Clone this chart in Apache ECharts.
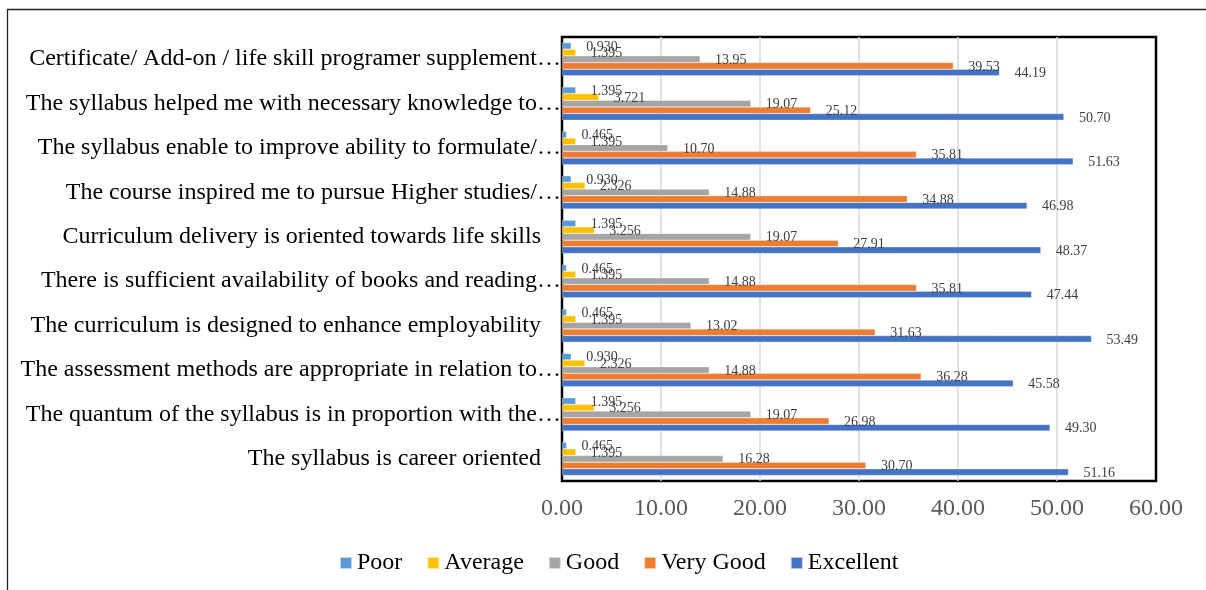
<!DOCTYPE html>
<html>
<head>
<meta charset="utf-8">
<script src="https://cdn.jsdelivr.net/npm/echarts@6/dist/echarts.min.js"></script>
<style>
html,body{margin:0;padding:0;background:#fff;}
#chart{width:1206px;height:590px;}
</style>
</head>
<body>
<div id="chart"></div>
<script>
const categories = [
  "Certificate/ Add-on / life skill programer supplement…",
  "The syllabus helped me with necessary knowledge to…",
  "The syllabus enable to improve ability to formulate/…",
  "The course inspired me to pursue Higher studies/…",
  "Curriculum delivery is oriented towards life skills",
  "There is sufficient availability of books and reading…",
  "The curriculum is designed to enhance employability",
  "The assessment methods are appropriate in relation to…",
  "The quantum of the syllabus is in proportion with the…",
  "The syllabus is career oriented"
];
const seriesNames = ["Poor", "Average", "Good", "Very Good", "Excellent"];
const poor      = [0.930, 1.395, 0.465, 0.930, 1.395, 0.465, 0.465, 0.930, 1.395, 0.465];
const average   = [1.395, 3.721, 1.395, 2.326, 3.256, 1.395, 1.395, 2.326, 3.256, 1.395];
const good      = [13.95, 19.07, 10.70, 14.88, 19.07, 14.88, 13.02, 14.88, 19.07, 16.28];
const veryGood  = [39.53, 25.12, 35.81, 34.88, 27.91, 35.81, 31.63, 36.28, 26.98, 30.70];
const excellent = [44.19, 50.70, 51.63, 46.98, 48.37, 47.44, 53.49, 45.58, 49.30, 51.16];
const labelDecimals = [3, 3, 2, 2, 2];
const colors = ["#5B9BD5", "#FFC000", "#A5A5A5", "#ED7D31", "#4472C4"];
const xTicks = [0, 10, 20, 30, 40, 50, 60];

const FONT = "'Liberation Serif', 'Times New Roman', serif";
const allData = [poor, average, good, veryGood, excellent];

const chart = echarts.init(document.getElementById('chart'), null, {renderer: 'canvas'});
const option = {
  animation: false,
  backgroundColor: '#fff',
  textStyle: {fontFamily: FONT},
  graphic: [{
    type: 'rect',
    shape: {x: 7.5, y: 9.5, width: 1400, height: 800},
    style: {fill: 'none', stroke: '#222', lineWidth: 1.3},
    silent: true, z: 0
  }],
  legend: {
    data: seriesNames,
    left: 334,
    top: 546,
    itemWidth: 12,
    itemHeight: 12,
    itemGap: 24,
    icon: 'rect',
    textStyle: {fontFamily: FONT, fontSize: 24, color: '#000', padding: [0, 0, 0, 0]}
  },
  grid: {
    left: 562, right: 50, top: 37, bottom: 109,
    show: true, borderColor: '#000', borderWidth: 2.5,
    containLabel: false
  },
  xAxis: {
    type: 'value',
    min: xTicks[0], max: xTicks[xTicks.length - 1], interval: 10,
    axisLine: {show: false},
    axisTick: {show: false},
    splitLine: {show: true, showMinLine: false, showMaxLine: false, lineStyle: {color: '#d9d9d9', width: 1.5}},
    axisLabel: {
      fontFamily: FONT, fontSize: 24, color: '#595959', margin: 16,
      formatter: v => v.toFixed(2)
    }
  },
  yAxis: {
    type: 'category',
    data: categories,
    inverse: true,
    axisLine: {show: false},
    axisTick: {show: false},
    axisLabel: {
      fontFamily: FONT, fontSize: 24, color: '#000', margin: 1,
      formatter: v => v.endsWith('…') ? v : '{p|' + v + '}',
      rich: {p: {fontFamily: FONT, fontSize: 24, color: '#000', padding: [0, 20, 0, 0]}}
    }
  },
  series: seriesNames.map((name, i) => ({
    name: name,
    type: 'bar',
    data: allData[i],
    barGap: '0%',
    barCategoryGap: '25%',
    itemStyle: {color: colors[i], borderColor: 'rgba(255,255,255,0.6)', borderWidth: 0.5},
    label: {
      show: true, position: 'right', distance: 5, offset: [10, 1],
      fontFamily: FONT, fontSize: 14, color: '#404040',
      formatter: p => p.value.toFixed(labelDecimals[i])
    }
  }))
};
chart.setOption(option);
</script>
</body>
</html>
